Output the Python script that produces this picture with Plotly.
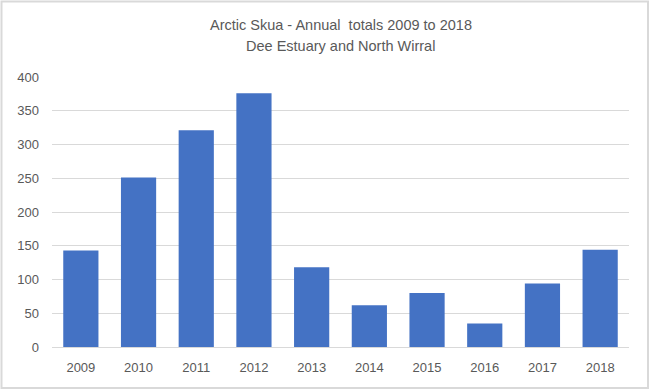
import plotly.graph_objects as go

years = ["2009", "2010", "2011", "2012", "2013", "2014", "2015", "2016", "2017", "2018"]
totals = [143, 251, 321, 376, 118, 62, 80, 35, 94, 144]
y_ticks = [0, 50, 100, 150, 200, 250, 300, 350, 400]
title_line1 = "Arctic Skua - Annual  totals 2009 to 2018"
title_line2 = "Dee Estuary and North Wirral"

W, H = 650, 390
ML, MR, MT, MB = 52, 21, 77, 43
PW, PH = W - ML - MR, H - MT - MB

def px_x(px):
    return (px - ML) / PW

def px_y(py):
    return (H - MB - py) / PH

fig = go.Figure(go.Bar(
    x=years, y=totals,
    marker=dict(color="#4472C4", line=dict(width=0)),
    hoverinfo="x+y",
))

title_font = dict(family="Liberation Sans, Arial", size=14.5, color="#595959")
fig.add_annotation(text=title_line1, x=0.5, xref="paper", y=px_y(25), yref="paper",
                   xanchor="center", yanchor="middle", showarrow=False, font=title_font)
fig.add_annotation(text=title_line2, x=0.5, xref="paper", y=px_y(46), yref="paper",
                   xanchor="center", yanchor="middle", showarrow=False, font=title_font)

# outer chart border
fig.add_shape(type="rect", xref="paper", yref="paper",
              x0=px_x(1.5), x1=px_x(648), y0=px_y(388), y1=px_y(1.5),
              line=dict(color="#d9d9d9", width=2), fillcolor="rgba(0,0,0,0)", layer="below")

tick_font = dict(family="Liberation Sans, Arial", size=13, color="#595959")
fig.update_layout(
    width=W, height=H,
    margin=dict(l=ML, r=MR, t=MT, b=MB, pad=0),
    paper_bgcolor="white", plot_bgcolor="white",
    bargap=0.39,
    showlegend=False,
    xaxis=dict(showgrid=False, showline=True, linecolor="#d9d9d9", linewidth=1,
               tickfont=tick_font, ticks="", ticklabelstandoff=8, fixedrange=True),
    yaxis=dict(range=[0, 400], tickvals=y_ticks, showgrid=True, gridcolor="#d9d9d9", gridwidth=1,
               zeroline=False, showline=False, tickfont=tick_font, ticks="",
               ticklabelstandoff=12, fixedrange=True),
)

fig.write_html("out.html", config={"displayModeBar": False},
               post_script="document.body.style.margin='0';document.body.style.overflow='hidden';")
